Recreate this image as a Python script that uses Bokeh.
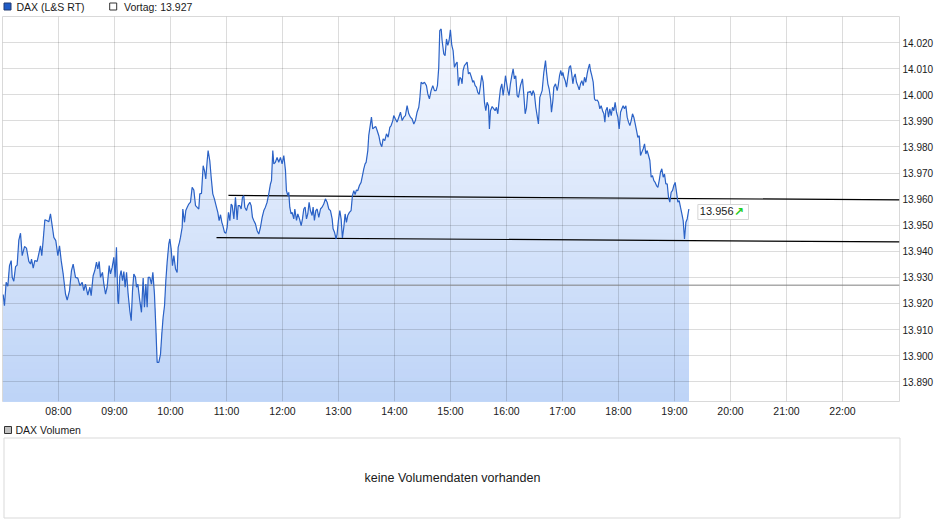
import numpy as np

from bokeh.plotting import figure
from bokeh.layouts import column
from bokeh.models import FixedTicker, Label
from bokeh.core.properties import value
from bokeh.embed import file_html
from bokeh.resources import INLINE

# intraday quotes, minutes after 07:00
minutes = [
    0.7, 2.1, 3.9, 5.7, 7.5, 9.3, 10.4, 12.1, 14.0, 15.7, 17.5, 19.3, 21.1, 23.6, 25.7,
    28.2, 30.0, 31.1, 32.9, 34.6, 37.1, 38.9, 40.7, 42.1, 43.6, 45.4, 47.9, 49.6, 51.4,
    53.6, 55.0, 57.1, 59.3, 61.1, 62.9, 65.0, 67.5, 69.3, 71.8, 73.9, 75.7, 78.2, 80.7,
    82.9, 85.4, 87.1, 88.9, 91.4, 93.6, 95.0, 97.1, 98.9, 100.7, 102.1, 103.6, 105.0,
    107.1, 108.6, 110.4, 112.1, 114.3, 115.7, 117.5, 119.3, 120.7, 122.1, 123.6, 124.3,
    125.7, 127.1, 128.6, 130.0, 131.4, 132.9, 134.6, 136.4, 137.9, 139.3, 140.7, 142.5,
    143.6, 145.0, 147.1, 148.9, 150.7, 152.1, 153.6, 155.0, 156.1, 157.9, 159.6, 161.1,
    162.8, 164.3, 165.7, 167.5, 169.3, 170.7, 172.1, 173.6, 175.0, 176.4, 178.2, 179.3,
    180.7, 182.1, 183.6, 185.4, 187.1, 188.2, 189.6, 190.7, 192.5, 193.2, 195.0, 196.4,
    197.8, 199.6, 201.4, 203.2, 205.0, 206.8, 208.6, 210.3, 211.4, 213.2, 215.0, 216.4,
    217.8, 219.3, 220.3, 222.1, 223.6, 225.3, 227.1, 229.3, 230.7, 232.1, 233.6, 235.0,
    236.1, 237.8, 239.3, 240.7, 242.1, 243.6, 245.0, 246.1, 247.9, 249.6, 251.4, 252.5,
    254.2, 255.7, 257.1, 258.5, 259.6, 261.4, 262.8, 265.0, 266.4, 267.8, 269.2, 271.0,
    272.8, 274.6, 276.4, 278.2, 280.0, 281.7, 283.5, 285.3, 287.1, 288.2, 289.6, 290.7,
    292.4, 294.2, 296.0, 297.8, 299.6, 301.4, 303.2, 304.2, 305.7, 306.7, 307.8, 309.2,
    310.3, 312.1, 313.2, 315.0, 316.4, 318.2, 320.0, 321.4, 322.8, 324.2, 325.7, 327.1,
    328.5, 329.9, 331.7, 332.8, 334.2, 335.7, 337.1, 338.9, 340.7, 342.4, 344.2, 346.0,
    347.8, 349.6, 351.4, 353.2, 354.2, 355.7, 357.4, 358.5, 359.9, 361.4, 362.8, 364.2,
    365.7, 367.1, 368.5, 369.9, 371.7, 373.5, 374.9, 376.4, 377.8, 379.2, 380.6, 382.4,
    384.2, 386.0, 387.1, 388.5, 389.6, 391.4, 392.4, 395.3, 396.7, 398.5, 400.0, 401.4,
    403.2, 405.0, 406.4, 407.8, 409.6, 411.4, 413.2, 415.0, 416.4, 418.2, 419.2, 421.0,
    422.8, 424.6, 426.4, 428.2, 430.0, 431.7, 433.5, 435.3, 437.1, 438.9, 440.7, 442.4,
    444.2, 446.0, 447.1, 448.5, 450.3, 452.1, 454.2, 455.7, 457.4, 459.2, 461.0, 462.8,
    464.6, 466.0, 467.4, 468.5, 470.0, 471.0, 472.8, 474.2, 475.7, 477.1, 478.5, 479.9,
    481.4, 482.8, 484.2, 485.7, 487.1, 488.5, 490.0, 491.4, 492.4, 493.5, 494.9, 496.4,
    497.8, 499.2, 500.7, 502.4, 503.9, 504.9, 506.4, 507.8, 509.2, 510.7, 512.1, 513.5,
    515.0, 516.4, 517.8, 519.2, 520.7, 521.7, 522.8, 524.6, 526.4, 527.8, 529.2, 530.7,
    532.1, 533.5, 535.0, 536.4, 537.8, 538.9, 540.0, 541.4, 542.8, 544.2, 545.7, 547.1,
    548.5, 549.9, 551.4, 552.8, 554.9, 557.1, 558.5, 560.0, 561.4, 562.8, 564.2, 565.7,
    567.1, 568.5, 569.9, 571.4, 572.8, 574.2, 575.7, 578.2, 580.0, 581.8, 582.9, 584.3,
    585.7, 587.2, 588.2, 589.7, 590.7, 592.5, 594.3, 595.4, 596.8, 598.2, 599.3, 600.4,
    601.5, 602.9, 604.3, 605.7, 607.2, 608.6, 609.7, 611.1, 612.2, 613.6, 615.0, 616.4,
    617.9, 619.3, 620.7, 622.2, 623.6, 625.0, 626.4, 627.5, 629.0, 630.0, 631.4, 632.9,
    634.3, 635.4, 637.2, 638.6, 640.0, 641.4, 642.9, 644.3, 645.4, 646.4, 647.9, 649.3,
    650.7, 652.2, 653.6, 655.0, 656.4, 657.9, 659.3, 660.7, 662.2, 663.6, 665.0, 666.4,
    667.9, 669.3, 670.7, 672.2, 673.6, 675.0, 676.4, 677.9, 679.3, 680.7, 682.2, 683.6,
    685.0, 686.4, 687.9, 689.3, 690.7, 692.2, 693.6, 695.0, 696.4, 697.9, 699.3, 700.7,
    702.2, 703.6, 705.0, 706.4, 707.9, 709.3, 710.7, 712.2, 713.6, 715.0, 716.4, 717.9,
    719.3, 720.7, 722.2, 723.6, 725.0, 726.4, 727.9, 729.3, 730.7, 732.2, 733.6, 735.4,
]
prices = [
    13923.4, 13919.1, 13928.1, 13926.6, 13934.5, 13936.4, 13930.0, 13928.5, 13934.1, 13934.7,
    13944.3, 13946.9, 13938.3, 13941.8, 13941.2, 13936.1, 13935.1, 13937.0, 13933.5, 13936.4,
    13936.1, 13939.0, 13942.1, 13938.3, 13944.3, 13952.1, 13951.7, 13951.3, 13954.3, 13948.9,
    13945.3, 13944.1, 13938.3, 13942.1, 13936.4, 13931.3, 13923.6, 13921.3, 13924.9, 13932.6,
    13935.1, 13930.0, 13929.7, 13926.8, 13928.1, 13924.9, 13927.4, 13923.2, 13926.2, 13923.0,
    13930.6, 13932.6, 13935.8, 13933.2, 13936.1, 13930.0, 13931.9, 13927.4, 13923.6, 13926.2,
    13934.5, 13931.3, 13933.8, 13937.7, 13930.0, 13941.5, 13921.1, 13919.8, 13930.3, 13932.6,
    13928.7, 13932.2, 13926.2, 13931.9, 13923.6, 13917.2, 13913.4, 13924.9, 13931.3, 13930.0,
    13926.2, 13927.4, 13921.1, 13916.6, 13929.7, 13918.5, 13927.4, 13918.5, 13930.0, 13930.0,
    13927.4, 13931.9, 13923.6, 13910.8, 13897.4, 13897.4, 13900.6, 13908.3, 13914.7, 13919.1,
    13928.7, 13935.8, 13942.8, 13944.7, 13940.9, 13934.5, 13938.3, 13933.2, 13931.9, 13941.5,
    13943.4, 13945.3, 13949.2, 13956.2, 13951.1, 13955.6, 13956.8, 13958.1, 13958.8, 13964.5,
    13963.5, 13957.5, 13956.8, 13956.2, 13962.0, 13962.2, 13972.8, 13970.9, 13967.7, 13974.7,
    13978.6, 13974.7, 13968.3, 13962.0, 13960.0, 13956.8, 13954.9, 13951.7, 13954.0, 13951.1,
    13949.8, 13947.3, 13946.9, 13949.2, 13954.9, 13951.7, 13958.1, 13957.5, 13952.4, 13960.7,
    13952.0, 13957.5,
    13957.5, 13956.2, 13960.7, 13961.3, 13956.9, 13955.6, 13957.5, 13958.8, 13957.5, 13953.0,
    13951.8, 13950.5, 13947.9, 13946.6, 13949.2, 13953.0, 13955.6, 13956.9, 13958.8, 13962.0,
    13965.8, 13967.1, 13978.6, 13973.5, 13974.1, 13976.0, 13974.1, 13976.0, 13973.5, 13976.7,
    13970.9, 13963.3, 13961.3, 13962.6, 13956.9, 13954.3, 13954.9, 13952.4, 13956.2, 13951.8,
    13954.3, 13952.4, 13949.8, 13952.4, 13956.2, 13956.9, 13952.4, 13954.3, 13958.8, 13955.6,
    13953.7, 13956.9, 13951.8, 13955.6, 13956.2, 13953.0, 13956.2, 13956.9, 13958.1, 13960.1,
    13958.8, 13956.2, 13955.6, 13952.4, 13948.6, 13947.3, 13944.7, 13946.6, 13951.8, 13955.6,
    13952.4, 13945.1, 13949.2, 13954.3, 13951.1, 13953.7, 13954.9, 13955.6, 13961.3, 13963.2,
    13961.7, 13963.5, 13963.2, 13965.2, 13966.4, 13969.6, 13971.6, 13973.5, 13974.1, 13978.6,
    13984.3,
    13991.4, 13986.9, 13987.5, 13987.8, 13986.3, 13984.3, 13981.1, 13980.1, 13983.1, 13982.4,
    13985.0, 13983.7, 13987.5, 13988.2, 13990.1, 13992.0, 13990.7, 13989.5, 13991.4, 13993.3,
    13990.1, 13991.4, 13992.0, 13995.8, 13992.7, 13991.4, 13990.7, 13988.8, 13990.1, 13993.3,
    13995.2, 13998.4, 14004.8, 14004.2, 14004.8, 14003.5, 14000.3, 13998.4, 14001.6, 14003.5,
    14001.6, 14001.6, 14003.5, 14010.5, 14024.6, 14025.2, 14020.8, 14015.7, 14015.0, 14021.4,
    14018.9, 14020.8, 14024.9, 14018.9, 14016.9, 14010.5, 14011.8, 14012.5, 14003.5, 14006.7,
    14006.1, 14004.2, 14009.3, 14011.2, 14011.8, 14012.5, 14008.0, 14008.6, 14006.7, 14004.8,
    14005.4, 14003.5, 14002.9, 14000.9, 14000.1, 14003.5, 14007.4, 14004.8, 13997.1, 13993.9,
    13997.1, 13995.8, 13986.9, 13993.9, 13995.5, 13994.6, 13993.9, 13995.2, 13992.7, 13997.8,
    14002.2, 14004.2, 13999.7, 14003.5, 14007.3, 14004.8, 14001.6, 13999.7, 14004.2, 14007.3,
    14009.9, 14006.1, 14007.3, 13999.7, 13999.0, 14003.5, 14006.1, 14000.3, 13992.7, 13995.0,
    14001.0, 14001.0, 14001.3, 13999.7, 14001.6, 14000.3, 13995.2, 13992.0, 13988.8, 13999.0,
    14001.6, 14008.6, 14013.1, 14008.6, 14004.2, 14002.2, 13998.4, 13993.3, 13997.8, 14002.9,
    14004.2, 14001.6, 14003.5, 14007.3, 14009.3, 14007.3, 14008.6, 14006.7, 14005.4, 14002.9,
    14006.7, 14010.5, 14011.2, 14008.6, 14004.2, 14006.7, 14008.0, 14004.8, 14003.5, 14001.9,
    14004.2, 14005.4, 14003.5, 14006.7, 14004.8, 14008.0, 14009.9, 14011.8, 14009.3, 14007.3,
    14004.8, 13998.4, 13997.8, 13998.0, 13997.1, 13994.6, 13995.8, 13993.9, 13992.7, 13989.5,
    13993.9, 13995.2, 13991.4, 13994.6, 13992.0, 13995.2, 13993.9, 13997.1, 13993.3, 13991.4,
    13986.9, 13993.3, 13994.6, 13995.8, 13994.6, 13995.8, 13991.4, 13989.5, 13988.2, 13990.1,
    13992.7, 13991.4, 13988.8, 13986.3, 13983.7, 13984.3, 13976.7, 13978.0, 13979.2, 13981.2,
    13977.3, 13978.6, 13976.7, 13974.8, 13968.4, 13969.0, 13967.1, 13966.4, 13965.2, 13964.5,
    13967.1, 13970.3, 13971.6, 13968.4, 13969.6, 13965.8, 13965.8, 13960.7, 13958.8, 13962.6,
    13963.3, 13965.2, 13966.4, 13962.6, 13958.8, 13959.4, 13956.9, 13954.3, 13951.7, 13944.7,
    13951.1, 13952.4, 13956.2,
]

prev_close = 13927.0

# trend lines drawn on the chart
upper_t = [242.1, 961.0]
upper_v = [13961.4, 13959.7]
lower_t = [229.3, 961.0]
lower_v = [13945.2, 13943.6]

hour_ticks = [60, 120, 180, 240, 300, 360, 420, 480, 540, 600, 660, 720, 780, 840, 900]
hour_labels = ["08:00", "09:00", "10:00", "11:00", "12:00", "13:00", "14:00", "15:00",
               "16:00", "17:00", "18:00", "19:00", "20:00", "21:00", "22:00"]
price_ticks = [13890, 13900, 13910, 13920, 13930, 13940, 13950, 13960, 13970, 13980,
               13990, 14000, 14010, 14020, 14030]
price_labels = ["13.890", "13.900", "13.910", "13.920", "13.930", "13.940", "13.950",
                "13.960", "13.970", "13.980", "13.990", "14.000", "14.010", "14.020", ""]

FONT = "Liberation Sans"
TEXT = "#1a1a1a"
WIDTH = 938


def de_num(v):
    return f"{v / 1000:.3f}"


def pixel_strip(height):
    # small figure whose data units are its own canvas pixels (y downwards);
    # a 1px border keeps bokeh from falling back to its default border
    s = figure(frame_width=WIDTH - 2, frame_height=height - 2,
               x_range=(1, WIDTH - 1), y_range=(height - 1, 1),
               min_border_left=1, min_border_right=1, min_border_top=1, min_border_bottom=1,
               x_axis_location=None, y_axis_location=None,
               output_backend="svg", toolbar_location=None)
    s.grid.visible = False
    s.outline_line_color = None
    return s


t = np.array(minutes)
v = np.array(prices)
y_lo, y_hi = 13882.4, 14030.0

# legend row
leg = pixel_strip(15)
leg.rect(x=[6, 111.7], y=[6, 6], width=7, height=7,
         fill_color=["#1f5bc6", "white"], line_color=["#203a70", "#333333"])
leg.text(x=[15, 122.5], y=[6.5, 6.5], text=["DAX (L&S RT)", f"Vortag: {de_num(prev_close)}"],
         text_font=value(FONT), text_font_size=value("10.5px"), text_color=TEXT,
         text_baseline="middle")

p = figure(frame_width=897, frame_height=385,
           x_range=(0, 961.07), y_range=(y_lo, y_hi),
           min_border_left=2, min_border_top=1, min_border_right=39, min_border_bottom=19,
           y_axis_location="right",
           output_backend="svg", toolbar_location=None)

p.outline_line_color = "#d9d9d9"

for ax in (p.xaxis[0], p.yaxis[0]):
    ax.axis_line_color = None
    ax.major_tick_line_color = None
    ax.minor_tick_line_color = None
    ax.major_tick_out = 0
    ax.major_tick_in = 0
    ax.minor_tick_out = 0
    ax.minor_tick_in = 0
    ax.major_label_text_font = FONT
    ax.major_label_text_color = TEXT
    ax.major_label_standoff = 3

p.xaxis.ticker = FixedTicker(ticks=hour_ticks)
p.xaxis.major_label_overrides = dict(zip(hour_ticks, hour_labels))
p.xaxis.major_label_text_font_size = "10.5px"
p.yaxis.ticker = FixedTicker(ticks=price_ticks)
p.yaxis.major_label_overrides = dict(zip(price_ticks, price_labels))
p.yaxis.major_label_text_font_size = "10px"

p.xgrid.ticker = FixedTicker(ticks=hour_ticks)
p.ygrid.ticker = FixedTicker(ticks=price_ticks)
for g in (p.xgrid[0], p.ygrid[0]):
    g.grid_line_color = "black"
    g.grid_line_alpha = 0.137

# vertical gradient under the price line, built from stacked areas
bottom_rgb = np.array([190, 212, 247])
top_rgb = np.array([246, 249, 255])
n_bands = 48
edges = np.linspace(y_lo, y_hi, n_bands + 1)
for k in range(n_bands - 1, -1, -1):
    rgb = bottom_rgb + (top_rgb - bottom_rgb) * k / (n_bands - 1)
    color = "#%02x%02x%02x" % tuple(int(round(c)) for c in rgb)
    p.varea(x=t, y1=np.full_like(v, y_lo), y2=np.minimum(v, edges[k + 1]),
            fill_color=color, fill_alpha=1.0, level="image")

p.line([0, 961.07], [prev_close, prev_close], line_color="#7f7f7f", line_width=1)
p.line(upper_t, upper_v, line_color="black", line_width=1.2)
p.line(lower_t, lower_v, line_color="black", line_width=1.2)
p.line(t, v, line_color="#2b62c6", line_width=1.2)

# last price box
p.add_layout(Label(x=minutes[-1], y=prices[-1], x_offset=9, y_offset=-3,
                   text=de_num(prices[-1]), text_font=FONT, text_font_size="11px",
                   text_color=TEXT, text_baseline="middle", text_align="left",
                   background_fill_color="white", border_line_color="#d5d5d5",
                   padding=(2, 15, 2, 5)))
p.add_layout(Label(x=minutes[-1], y=prices[-1], x_offset=45, y_offset=-3,
                   text="\u2197", text_font="DejaVu Sans", text_font_size="12px",
                   text_font_style="bold",
                   text_color="#22cc22", text_baseline="middle", text_align="left"))

# empty volume panel
vol = pixel_strip(100)
vol.quad(left=2.5, right=898.5, top=17.5, bottom=97.5,
         fill_color=None, line_color="#d9d9d9", line_width=1)
vol.rect(x=[6.5], y=[9.5], width=7, height=7, fill_color="#c0c0c0", line_color="#333333")
vol.text(x=[14], y=[9], text=["DAX Volumen"],
         text_font=value(FONT), text_font_size=value("10.5px"), text_color=TEXT,
         text_baseline="middle")
vol.text(x=[451], y=[57.7], text=["keine Volumendaten vorhanden"],
         text_font=value(FONT), text_font_size=value("12.5px"), text_color=TEXT,
         text_align="center", text_baseline="middle")

layout = column(leg, p, vol)

open("out.html", "w").write(file_html(layout, INLINE))
